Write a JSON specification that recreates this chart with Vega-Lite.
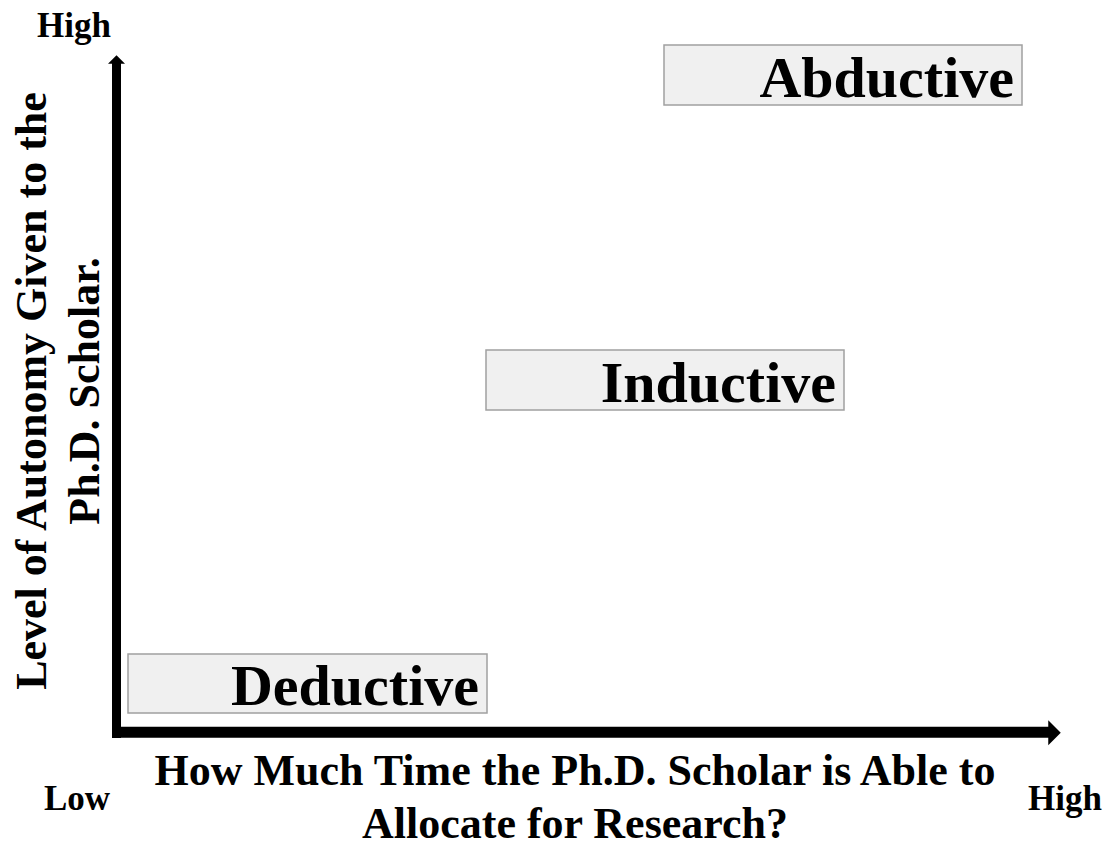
{
  "$schema": "https://vega.github.io/schema/vega-lite/v6.json",
  "width": 1106,
  "height": 841,
  "autosize": {"type": "none"},
  "padding": 0,
  "background": "white",
  "config": {"view": {"stroke": null}},
  "datasets": {
    "boxes": [
      {"label": "Abductive", "x0": 664, "x1": 1022, "y0": 45, "y1": 105},
      {"label": "Inductive", "x0": 486, "x1": 844, "y0": 350, "y1": 410},
      {"label": "Deductive", "x0": 128, "x1": 487, "y0": 654, "y1": 713}
    ],
    "shaftV": [{"x": 116.5, "y": 738, "y2": 63}],
    "shaftH": [{"x": 112, "x2": 1049, "y": 732.3}],
    "headV": [{"x": 116.5, "y": 59.5}],
    "headH": [{"x": 1054.5, "y": 732.8}],
    "small": [
      {"text": "High", "x": 37, "y": 37},
      {"text": "Low", "x": 44, "y": 810},
      {"text": "High", "x": 1028, "y": 810}
    ],
    "xtitle": [
      {"text": "How Much Time the Ph.D. Scholar is Able to", "x": 575, "y": 785},
      {"text": "Allocate for Research?", "x": 575, "y": 838}
    ],
    "ytitle": [
      {"text": "Level of Autonomy Given to the", "x": 46, "y": 391},
      {"text": "Ph.D. Scholar.", "x": 99, "y": 391}
    ]
  },
  "layer": [
    {
      "data": {"name": "boxes"},
      "mark": {"type": "rect", "fill": "#f0f0f0", "stroke": "#a0a0a0", "strokeWidth": 1.5},
      "encoding": {
        "x": {"field": "x0", "type": "quantitative", "scale": {"domain": [0, 1106], "nice": false, "zero": false}, "axis": null},
        "x2": {"field": "x1"},
        "y": {"field": "y0", "type": "quantitative", "scale": {"domain": [0, 841], "nice": false, "zero": false, "reverse": true}, "axis": null},
        "y2": {"field": "y1"}
      }
    },
    {
      "data": {"name": "boxes"},
      "transform": [{"calculate": "datum.x1 - 8", "as": "tx"}, {"calculate": "datum.y1 - 8", "as": "ty"}],
      "mark": {"type": "text", "align": "right", "baseline": "alphabetic", "font": "Liberation Serif", "fontWeight": "bold", "fontSize": 58, "color": "black"},
      "encoding": {
        "x": {"field": "tx", "type": "quantitative"},
        "y": {"field": "ty", "type": "quantitative"},
        "text": {"field": "label"}
      }
    },
    {
      "data": {"name": "shaftV"},
      "mark": {"type": "rule", "color": "black", "strokeWidth": 9, "strokeCap": "butt"},
      "encoding": {
        "x": {"field": "x", "type": "quantitative"},
        "y": {"field": "y", "type": "quantitative"},
        "y2": {"field": "y2"}
      }
    },
    {
      "data": {"name": "shaftH"},
      "mark": {"type": "rule", "color": "black", "strokeWidth": 11, "strokeCap": "butt"},
      "encoding": {
        "x": {"field": "x", "type": "quantitative"},
        "x2": {"field": "x2"},
        "y": {"field": "y", "type": "quantitative"}
      }
    },
    {
      "data": {"name": "headV"},
      "mark": {"type": "point", "shape": "M -1 0.5 L 0 -0.5 L 1 0.5 Z", "size": 289, "filled": true, "color": "black", "opacity": 1, "strokeWidth": 0},
      "encoding": {
        "x": {"field": "x", "type": "quantitative"},
        "y": {"field": "y", "type": "quantitative"}
      }
    },
    {
      "data": {"name": "headH"},
      "mark": {"type": "point", "shape": "M -0.5 -1 L 0.5 0 L -0.5 1 Z", "size": 625, "filled": true, "color": "black", "opacity": 1, "strokeWidth": 0},
      "encoding": {
        "x": {"field": "x", "type": "quantitative"},
        "y": {"field": "y", "type": "quantitative"}
      }
    },
    {
      "data": {"name": "small"},
      "mark": {"type": "text", "align": "left", "baseline": "alphabetic", "font": "Liberation Serif", "fontWeight": "bold", "fontSize": 35, "color": "black"},
      "encoding": {
        "x": {"field": "x", "type": "quantitative"},
        "y": {"field": "y", "type": "quantitative"},
        "text": {"field": "text"}
      }
    },
    {
      "data": {"name": "xtitle"},
      "mark": {"type": "text", "align": "center", "baseline": "alphabetic", "font": "Liberation Serif", "fontWeight": "bold", "fontSize": 44, "color": "black"},
      "encoding": {
        "x": {"field": "x", "type": "quantitative"},
        "y": {"field": "y", "type": "quantitative"},
        "text": {"field": "text"}
      }
    },
    {
      "data": {"name": "ytitle"},
      "mark": {"type": "text", "align": "center", "baseline": "alphabetic", "angle": 270, "font": "Liberation Serif", "fontWeight": "bold", "fontSize": 44, "color": "black"},
      "encoding": {
        "x": {"field": "x", "type": "quantitative"},
        "y": {"field": "y", "type": "quantitative"},
        "text": {"field": "text"}
      }
    }
  ]
}
